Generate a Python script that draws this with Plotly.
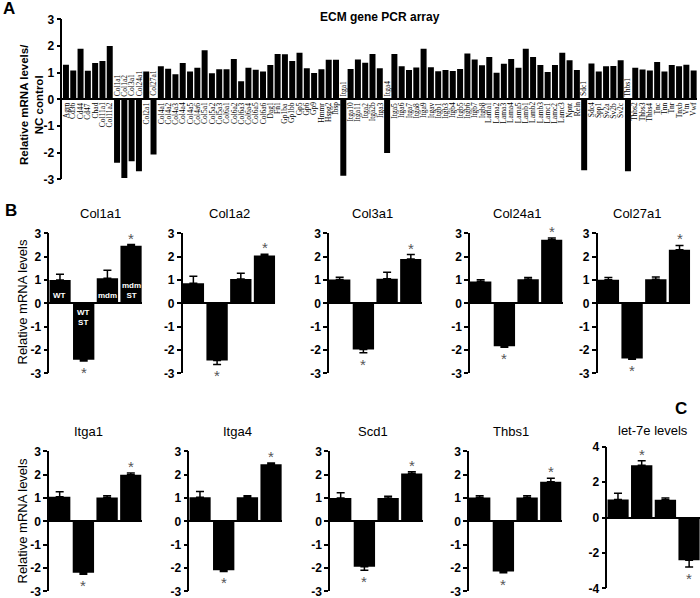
import plotly.graph_objects as go

W, H = 700, 598

# ---------------- Panel A data ----------------
a_genes = ["Agrn", "Cd36", "Cd44", "Cd47", "Chad", "Col11a1", "Col11a2", "Col1a1", "Col1a2",
           "Col3a1", "Col24a1", "Col2a1", "Col27a1", "Col4a1", "Col4a2", "Col4a3", "Col4a4",
           "Col4a5", "Col4a6", "Col5a1", "Col5a2", "Col5a3", "Col6a1", "Col6a2", "Col6a3",
           "Col6a4", "Col6a5", "Col6a6", "Dag1", "Fn1", "Gp1ba", "Gp1bb", "Gp5", "Gp6", "Gp9",
           "Hmmr", "Hspg2", "Ibsp", "Itga1", "Itga10", "Itga11", "Itga2", "Itga2b", "Itga3",
           "Itga4", "Itga5", "Itga6", "Itga7", "Itga8", "Itga9", "Itgav", "Itgb1", "Itgb3",
           "Itgb4", "Itgb5", "Itgb6", "Itgb7", "Itgb8", "Lama1", "Lama2", "Lama3", "Lama4",
           "Lama5", "Lamb1", "Lamb2", "Lamb3", "Lamc1", "Lamc2", "Lamc3", "Npnt", "Reln",
           "Sdc1", "Sdc4", "Spp1", "Sv2a", "Sv2b", "Sv2c", "Thbs1", "Thbs2", "Thbs3", "Thbs4",
           "Tnc", "Tnn", "Tnr", "Tnxb", "Vtn", "Vwf"]
a_values = [1.30, 1.08, 1.90, 1.07, 1.36, 1.44, 2.00, -2.38, -2.95,
            -2.32, -2.70, 1.04, -2.07, 1.24, 1.15, 0.94, 1.36,
            1.04, 1.18, 1.84, 0.98, 1.13, 1.13, 1.51, 0.68,
            1.18, 1.11, 1.04, 1.29, 1.70, 1.69, 1.44, 1.75, 1.16, 0.99,
            1.13, 1.48, 1.48, -2.87, 1.14, 1.49, 1.37, 1.70, 1.16,
            -2.01, 1.70, 1.24, 1.10, 1.19, 1.90, 1.20, 1.05, 1.10,
            1.06, 1.14, 1.72, 1.49, 1.28, 1.59, 1.00, 1.33, 1.51,
            1.18, 1.90, 1.59, 1.29, 1.02, 1.29, 1.75, 1.46, 1.10,
            -2.66, 1.34, 1.04, 1.24, 1.25, 1.46, -2.70, 1.18, 1.12, 1.08,
            1.40, 1.04, 1.29, 1.24, 1.30, 1.08]
a_ticks = [-3, -2, -1, 0, 1, 2, 3]

# ---------------- Panel B / C data ----------------
groups = ["WT", "WT ST", "mdm", "mdm ST"]
b_ticks = [-3, -2, -1, 0, 1, 2, 3]
c_ticks = [-4, -2, 0, 2, 4]
star_mask = [False, True, False, True]

col1a1_mean = [1.00, -2.42, 1.07, 2.47]
col1a1_err = [0.25, 0.05, 0.35, 0.05]
col1a2_mean = [0.86, -2.45, 1.04, 2.05]
col1a2_err = [0.30, 0.17, 0.25, 0.05]
col3a1_mean = [1.02, -1.98, 1.05, 1.90]
col3a1_err = [0.10, 0.14, 0.28, 0.19]
col24a1_mean = [0.93, -1.84, 1.03, 2.72]
col24a1_err = [0.08, 0.04, 0.08, 0.08]
col27a1_mean = [1.01, -2.37, 1.03, 2.30]
col27a1_err = [0.10, 0.03, 0.10, 0.18]
itga1_mean = [1.05, -2.20, 1.02, 2.00]
itga1_err = [0.22, 0.07, 0.08, 0.07]
itga4_mean = [1.03, -2.10, 1.03, 2.45]
itga4_err = [0.25, 0.05, 0.07, 0.05]
scd1_mean = [1.00, -1.95, 1.00, 2.05]
scd1_err = [0.22, 0.15, 0.07, 0.07]
thbs1_mean = [1.02, -2.15, 1.02, 1.70]
thbs1_err = [0.07, 0.05, 0.07, 0.15]
let7e_mean = [1.02, 2.95, 1.00, -2.42]
let7e_err = [0.35, 0.25, 0.10, 0.38]


def xd(x0, w):
    return [max(0.0, x0 / W), min(1.0, (x0 + w) / W)]


def yd(top, bottom):
    return [max(0.0, 1 - bottom / H), min(1.0, 1 - top / H)]


def paper_text(px, py, text, size, angle=0, color="black"):
    return dict(x=px / W, y=1 - py / H, xref="paper", yref="paper", text=text,
                showarrow=False, xanchor="center", yanchor="middle", textangle=angle,
                font=dict(family=AX_FONT, size=size, color=color))


fig = go.Figure()
annotations = []

AX_FONT = "Liberation Sans, Arial, sans-serif"

# ---------------- Panel A ----------------
fig.add_trace(go.Bar(
    x=list(range(len(a_genes))), y=a_values, width=0.82,
    marker=dict(color="black", line=dict(width=0)),
    xaxis="x", yaxis="y", showlegend=False, hoverinfo="skip"))

for i, (g, v) in enumerate(zip(a_genes, a_values)):
    annotations.append(dict(
        x=i, y=0, xref="x", yref="y", text=g, textangle=-90, showarrow=False,
        yanchor="top" if v > 0 else "bottom", xanchor="center",
        yshift=-1 if v > 0 else 1,
        font=dict(family="Liberation Serif, Times New Roman, serif", size=7.5, color="black")))

layout = dict(
    width=W, height=H, margin=dict(l=0, r=0, t=0, b=0, autoexpand=False),
    paper_bgcolor="white", plot_bgcolor="white", showlegend=False,
    barmode="relative", template="none",
)

layout["xaxis"] = dict(domain=xd(62.3, 635), range=[-0.5, len(a_genes) - 0.5],
                       showticklabels=False, showline=False, showgrid=False,
                       zeroline=False, ticks="", anchor="y", automargin=False)
layout["yaxis"] = dict(domain=yd(19.3, 179.3), range=[-3, 3], tickvals=a_ticks,
                       ticktext=[str(t) for t in a_ticks],
                       showline=True, linecolor="black", linewidth=1.5,
                       ticks="outside", ticklen=4, tickwidth=1.5, tickcolor="black",
                       showgrid=False, zeroline=True, zerolinecolor="black", zerolinewidth=1.5,
                       tickfont=dict(family=AX_FONT, size=12, color="black", weight="bold"),
                       ticklabeloverflow="allow", anchor="x", automargin=False)

annotations.append(paper_text(380, 17, "<b>ECM gene PCR array</b>", 12))
annotations.append(paper_text(31, 104, "<b>Relative mRNA levels/<br>NC control</b>", 11.5, -90))
annotations.append(paper_text(9, 9, "<b>A</b>", 17))
annotations.append(paper_text(11, 210, "<b>B</b>", 17))
annotations.append(paper_text(681, 408, "<b>C</b>", 17))

# ---------------- Panels B & C ----------------
panels = [
    ("Col1a1", col1a1_mean, col1a1_err, 49.3, 233.3, 373.3, 100, 213, b_ticks),
    ("Col1a2", col1a2_mean, col1a2_err, 182.7, 233.3, 373.3, 229, 213, b_ticks),
    ("Col3a1", col3a1_mean, col3a1_err, 329.0, 233.3, 373.3, 372, 213, b_ticks),
    ("Col24a1", col24a1_mean, col24a1_err, 470.0, 233.3, 373.3, 517, 213, b_ticks),
    ("Col27a1", col27a1_mean, col27a1_err, 597.7, 233.3, 373.3, 637, 213, b_ticks),
    ("Itga1", itga1_mean, itga1_err, 49.0, 451.3, 591.3, 88, 431, b_ticks),
    ("Itga4", itga4_mean, itga4_err, 189.3, 451.3, 591.3, 237, 431, b_ticks),
    ("Scd1", scd1_mean, scd1_err, 330.0, 451.3, 591.3, 373, 431, b_ticks),
    ("Thbs1", thbs1_mean, thbs1_err, 469.0, 451.3, 591.3, 511, 431, b_ticks),
    ("let-7e levels", let7e_mean, let7e_err, 607.3, 446.7, 588.3, 653, 430, c_ticks),
]

for k, (name, means, errs, x0, top, bottom, tx, ty, ticks) in enumerate(panels):
    n = k + 2
    xa, ya = "x%d" % n, "y%d" % n
    up = [e if m > 0 else 0 for m, e in zip(means, errs)]
    down = [e if m < 0 else 0 for m, e in zip(means, errs)]
    fig.add_trace(go.Bar(
        x=list(range(len(means))), y=means, width=0.9,
        marker=dict(color="black", line=dict(width=0)),
        error_y=dict(type="data", symmetric=False, array=up, arrayminus=down,
                     color="black", thickness=1.5, width=4),
        xaxis=xa, yaxis=ya, showlegend=False, hoverinfo="skip"))
    layout["xaxis%d" % n] = dict(domain=xd(x0, 92.5), range=[-0.45, len(means) - 0.55],
                                 showticklabels=False, showline=False, showgrid=False,
                                 zeroline=False, ticks="", anchor=ya, automargin=False)
    layout["yaxis%d" % n] = dict(domain=yd(top, bottom), range=[ticks[0], ticks[-1]],
                                 tickvals=ticks, ticktext=[str(t) for t in ticks],
                                 showline=True, linecolor="black", linewidth=1.5,
                                 ticks="outside", ticklen=4, tickwidth=1.5, tickcolor="black",
                                 showgrid=False, zeroline=True, zerolinecolor="black",
                                 zerolinewidth=1.5,
                                 tickfont=dict(family=AX_FONT, size=12, color="black",
                                               weight="bold"),
                                 ticklabeloverflow="allow", anchor=xa, automargin=False)
    annotations.append(paper_text(tx, ty, name, 13))
    # stars
    for i, (m, e, s) in enumerate(zip(means, errs, star_mask)):
        if not s:
            continue
        if m > 0:
            annotations.append(dict(x=i, y=m + e, xref=xa, yref=ya, text="*",
                                    showarrow=False, xanchor="center", yanchor="bottom", yshift=-4,
                                    font=dict(family=AX_FONT, size=15, color="#555555")))
        else:
            annotations.append(dict(x=i, y=m - e, xref=xa, yref=ya, text="*",
                                    showarrow=False, xanchor="center", yanchor="top", yshift=-1,
                                    font=dict(family=AX_FONT, size=15, color="#555555")))
    # group labels inside the first panel's bars
    if k == 0:
        for i, (g, m) in enumerate(zip(groups, means)):
            annotations.append(dict(x=i, y=0, xref=xa, yref=ya,
                                    text="<b>%s</b>" % g.replace(" ", "<br>"),
                                    showarrow=False, xanchor="center",
                                    yanchor="bottom" if m > 0 else "top",
                                    yshift=1 if m > 0 else -3,
                                    font=dict(family=AX_FONT, size=8, color="white")))

# y titles of panel B rows
for yc in (302, 521):
    annotations.append(paper_text(21.5, yc, "Relative mRNA levels", 13, -90))

layout["annotations"] = annotations
fig.update_layout(**layout)
fig.write_html("out.html", config={"displayModeBar": False},
               post_script="document.body.style.margin='0px';document.body.style.padding='0px';"
                           "document.body.style.overflow='hidden';")
